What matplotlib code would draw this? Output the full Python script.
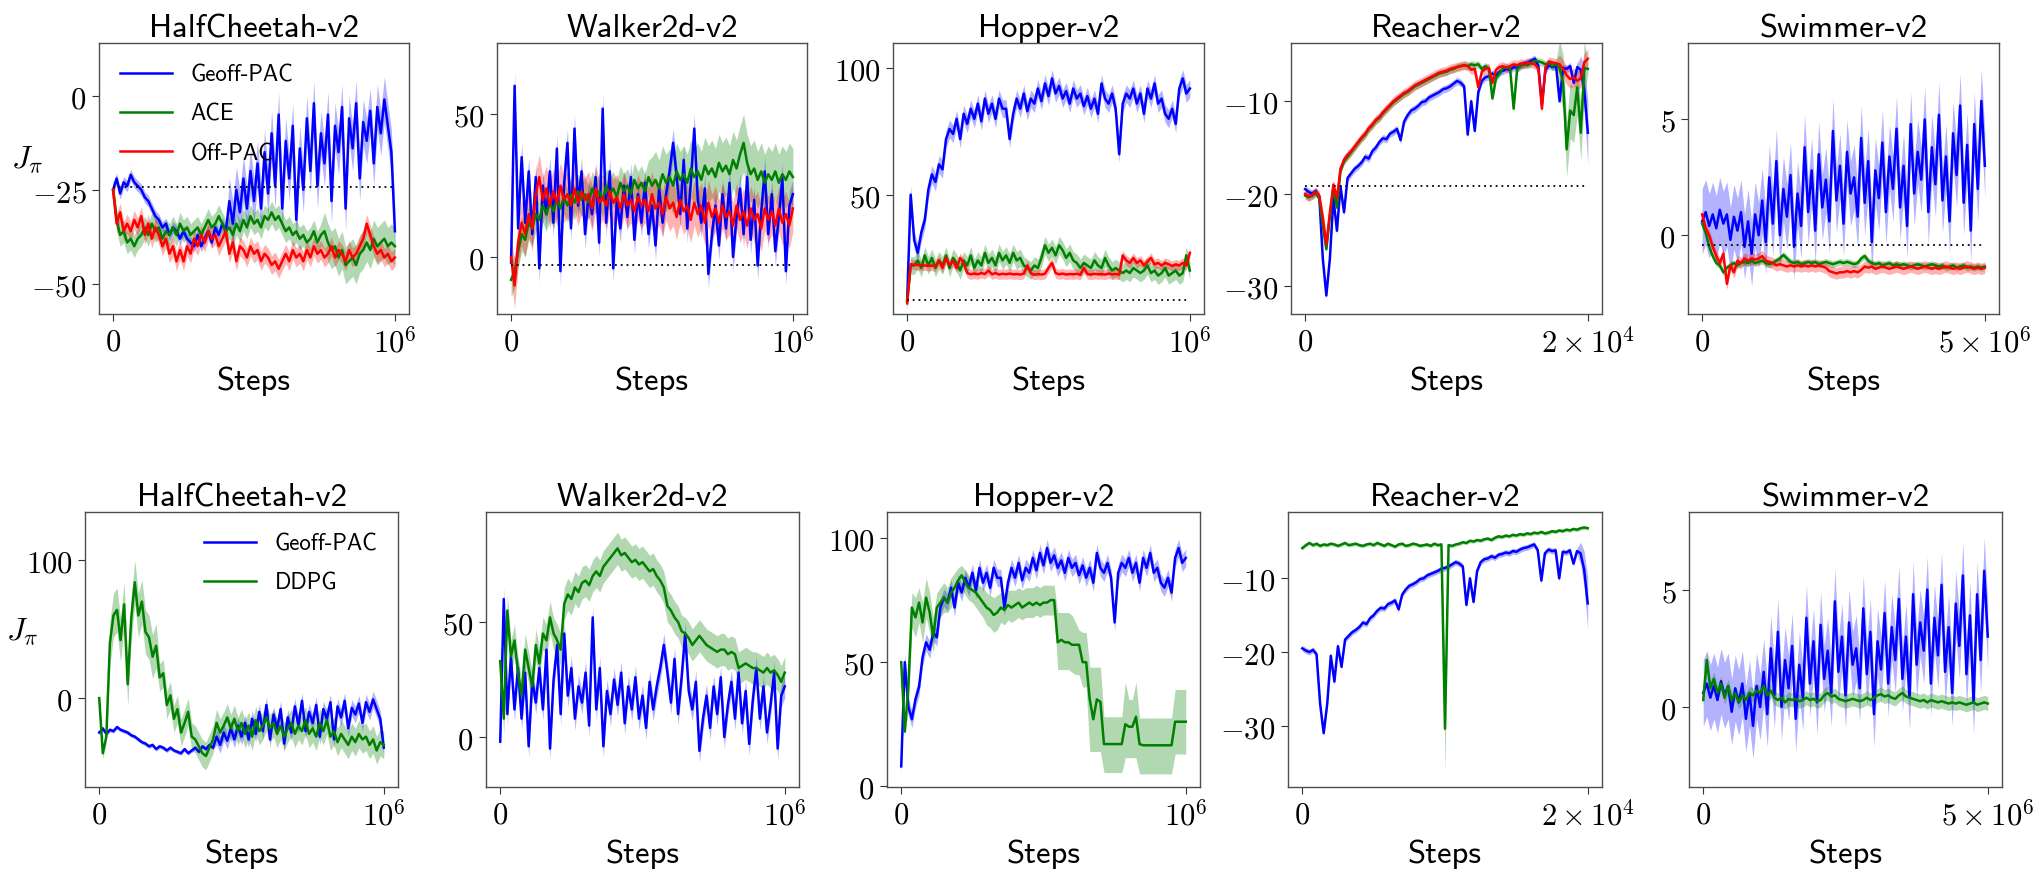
import numpy as np
import matplotlib
matplotlib.use("Agg")
import matplotlib.pyplot as plt

plt.rcParams['mathtext.fontset'] = 'cm'

# ---------------- data ----------------
ENVS = ['HalfCheetah-v2', 'Walker2d-v2', 'Hopper-v2', 'Reacher-v2', 'Swimmer-v2']
TOTAL_STEPS = [1e6, 1e6, 1e6, 2e4, 5e6]
XTICK_LABELS = [r'$10^6$', r'$10^6$', r'$10^6$', r'$2\times10^4$', r'$5\times10^6$']

# Geoff-PAC (same runs are shown in both rows)
hc_geoff = [-25, -22, -26, -23, -24, -21, -23, -24, -25, -27,
            -28, -30, -32, -33, -35, -34, -37, -35, -36, -38,
            -36, -38, -39, -40, -37, -40, -38, -36, -39, -35,
            -37, -34, -36, -28, -34, -25, -31, -22, -30, -20,
            -28, -18, -30, -15, -26, -10, -24, -5, -30, -12,
            -22, -8, -33, -14, -25, -6, -20, -2, -24, -10,
            -18, -5, -28, -8, -15, -3, -30, -6, -14, -2,
            -22, -7, -12, -4, -18, -3, -10, -1, -8, -15,
            -36]
walker_geoff = [-2, 60, 10, 35, 12, 30, 8, 28, -4, 25,
                15, 30, 12, 38, -5, 25, 40, 10, 45, 18,
                30, 8, 22, 15, 28, 5, 52, 12, 30, -4,
                20, 10, 25, 14, 28, 6, 22, 12, 26, 8,
                18, 4, 24, 12, 22, 30, 40, 28, 15, 34,
                10, 26, 45, 20, 12, 24, -6, 8, 18, 4,
                22, 10, 26, 0, 14, 24, 8, 28, 6, 20,
                -3, 16, 30, 8, 22, 2, 14, 28, -5, 18,
                22]
hopper_geoff = [8, 50, 32, 27, 35, 40, 52, 58, 55, 62,
                60, 72, 76, 74, 80, 72, 82, 78, 84, 80,
                86, 79, 88, 82, 86, 80, 88, 84, 84, 72,
                82, 88, 84, 90, 83, 88, 86, 92, 87, 94,
                89, 96, 90, 93, 88, 91, 86, 92, 88, 90,
                85, 89, 84, 88, 82, 94, 88, 86, 90, 84,
                66, 86, 90, 88, 92, 86, 90, 82, 92, 88,
                94, 86, 88, 82, 80, 84, 78, 92, 96, 90,
                92]
reacher_geoff = [-19.5, -19.8, -20.0, -19.7, -20.3, -27, -31, -27, -20.5, -24,
                 -19.2, -22, -18.3, -17.8, -17.3, -17.0, -16.6, -16.0, -16.2, -15.4,
                 -15.0, -14.4, -14.0, -14.1, -13.5, -13.3, -13.0, -14.2, -12.2, -11.5,
                 -11.0, -10.8, -10.5, -10.1, -10.0, -9.6, -9.4, -9.2, -9.0, -8.7,
                 -8.6, -8.4, -8.1, -7.8, -8.0, -8.4, -13.6, -10.0, -13.2, -9.0,
                 -7.8, -7.4, -7.3, -7.0, -7.2, -6.8, -6.7, -6.5, -6.6, -6.3,
                 -6.4, -6.1, -5.9, -5.8, -5.6, -5.4, -6.2, -10.3, -6.6, -6.1,
                 -6.3, -6.2, -10.0, -6.4, -6.5, -6.2, -8.0, -6.3, -6.6, -8.8,
                 -13.4]
swim_geoff = [0.6, 1.0, 0.4, 0.9, 0.3, 1.1, 0.5, 0.9, -0.2, 0.8,
              0.2, 1.0, -0.5, 0.6, -0.8, 0.9, 0.0, 1.5, -0.3, 2.5,
              0.5, 3.2, 0.0, 2.0, 0.8, 2.6, -0.5, 1.8, 0.4, 3.8,
              1.0, 2.8, 0.2, 3.5, 1.2, 2.4, 0.6, 4.5, 1.5, 3.0,
              0.5, 3.6, 1.8, 2.5, 0.8, 4.2, 1.4, 3.2, -0.3, 2.8,
              1.6, 4.0, 1.0, 3.4, 2.0, 4.6, 1.2, 3.0, 0.4, 4.8,
              1.8, 3.6, 2.4, 5.0, 1.0, 3.8, 2.2, 5.2, 1.5, 3.4,
              0.6, 4.4, 2.6, 5.6, 1.4, 3.9, 0.2, 4.8, 2.0, 5.8,
              3.0]

# ACE
hc_ace = [-25, -33, -37, -36, -39, -38, -40, -38, -37, -35,
          -37, -34, -36, -35, -38, -36, -37, -35, -37, -34,
          -36, -35, -37, -36, -35, -37, -35, -33, -35, -34,
          -32, -34, -36, -35, -37, -34, -36, -33, -35, -32,
          -34, -33, -35, -32, -33, -31, -33, -32, -34, -36,
          -35, -37, -36, -38, -37, -39, -38, -36, -39, -37,
          -36, -39, -41, -40, -43, -41, -45, -44, -43, -45,
          -42, -41, -39, -41, -38, -40, -39, -38, -40, -39,
          -40]
walker_ace = [-8, -5, 2, 8, 6, 12, 10, 15, 13, 18,
              15, 19, 16, 20, 17, 21, 18, 22, 19, 23,
              20, 22, 19, 24, 21, 23, 20, 25, 22, 24,
              21, 26, 23, 25, 22, 27, 24, 26, 23, 28,
              25, 27, 24, 29, 26, 28, 25, 30, 27, 29,
              26, 31, 28, 30, 27, 32, 29, 31, 28, 33,
              30, 32, 29, 34, 31, 36, 40, 33, 29, 31,
              27, 30, 26, 29, 27, 30, 26, 29, 27, 30,
              28]
hopper_ace = [8, 22, 22, 24, 21, 26, 22, 25, 21, 24,
              22, 26, 21, 25, 23, 20, 24, 22, 26, 21,
              24, 22, 27, 23, 25, 22, 27, 24, 26, 23,
              27, 24, 25, 22, 21, 20, 22, 21, 25, 30,
              27, 29, 26, 30, 28, 25, 27, 24, 23, 21,
              23, 22, 21, 24, 22, 21, 25, 22, 20, 21,
              20, 19, 20, 19, 21, 20, 19, 20, 22, 19,
              20, 18, 19, 21, 18, 19, 20, 18, 19, 26,
              20]
reacher_ace = [-20.2, -20.4, -20.2, -19.9, -20.5, -23.5, -26.0, -22.5, -19.3, -21.5,
               -17.5, -16.5, -16.0, -15.5, -15.0, -14.5, -14.0, -13.6, -13.0, -12.6,
               -12.1, -11.8, -11.3, -10.9, -10.5, -10.1, -9.8, -9.5, -9.2, -9.0,
               -8.7, -8.4, -8.2, -8.0, -7.8, -7.6, -7.4, -7.2, -7.0, -6.9,
               -6.8, -6.6, -6.5, -6.3, -6.2, -6.1, -6.2, -6.0, -6.1, -6.0,
               -6.5, -6.2, -6.5, -9.7, -7.5, -7.0, -6.4, -6.3, -6.5, -10.8,
               -6.5, -6.2, -6.0, -6.1, -5.8, -5.6, -5.7, -5.8, -6.0, -5.9,
               -6.2, -6.0, -6.4, -8.0, -15.2, -11.0, -11.5, -8.5, -13.4, -6.4,
               -6.5]
swim_ace = [0.5, 0.1, -0.5, -0.9, -1.2, -1.3, -1.6, -1.4, -1.3, -1.2,
            -1.3, -1.2, -1.15, -1.2, -1.1, -1.2, -1.15, -1.1, -1.2, -1.25,
            -1.2, -1.1, -1.0, -0.85, -1.0, -1.15, -1.2, -1.15, -1.25, -1.2,
            -1.15, -1.2, -1.15, -1.25, -1.2, -1.15, -1.2, -1.25, -1.2, -1.15,
            -1.2, -1.15, -1.2, -1.25, -1.2, -1.0, -0.9, -1.1, -1.2, -1.25,
            -1.2, -1.3, -1.25, -1.2, -1.3, -1.25, -1.3, -1.25, -1.3, -1.35,
            -1.3, -1.25, -1.3, -1.35, -1.3, -1.25, -1.3, -1.35, -1.3, -1.4,
            -1.35, -1.3, -1.4, -1.35, -1.3, -1.4, -1.35, -1.4, -1.35, -1.4,
            -1.35]

# Off-PAC
hc_off = [-25, -34, -31, -36, -34, -36, -33, -35, -32, -37,
          -34, -38, -35, -37, -40, -38, -42, -40, -44, -41,
          -44, -40, -42, -38, -40, -37, -39, -36, -38, -37,
          -40, -38, -36, -42, -39, -44, -40, -41, -43, -40,
          -42, -41, -44, -42, -43, -45, -44, -46, -44, -42,
          -44, -41, -43, -42, -44, -41, -43, -40, -42, -41,
          -43, -42, -40, -43, -41, -42, -44, -41, -43, -42,
          -40, -38, -34, -37, -40, -42, -41, -43, -42, -44,
          -43]
walker_off = [0, -10, 5, 12, 8, 15, 10, 22, 28, 20,
              24, 18, 23, 19, 25, 20, 22, 18, 24, 19,
              23, 20, 22, 17, 24, 19, 21, 18, 23, 19,
              21, 17, 22, 18, 20, 16, 21, 18, 20, 16,
              22, 17, 19, 15, 21, 17, 19, 14, 20, 16,
              18, 13, 19, 15, 18, 12, 19, 14, 17, 12,
              18, 14, 16, 11, 18, 13, 16, 11, 17, 13,
              15, 10, 17, 13, 16, 11, 17, 12, 15, 11,
              17]
hopper_off = [7, 22.5, 22.3, 22.2, 22, 22, 21.8, 22, 21.6, 24,
              21, 25, 22, 24, 21, 25, 23, 19, 18.5, 18.8,
              18.5, 19, 18.6, 20, 18.5, 19, 18.4, 18.7, 18.5, 18.8,
              18.5, 18.6, 18.4, 18.8, 22, 19, 18.3, 18.6, 18.4, 18.7,
              21, 23, 19, 18.5, 18.8, 18.4, 18.6, 18.5, 18.7, 18.3,
              21, 18.6, 18.4, 18.7, 18.5, 18.6, 18.4, 18.8, 18.5, 18.6,
              18.4, 26, 24, 23, 25, 23, 24, 22, 23.5, 25,
              22.5, 23, 22, 23, 22.5, 21.8, 22.4, 22, 23, 22,
              27]
reacher_off = [-20.0, -20.3, -20.1, -19.8, -20.2, -22.5, -25.5, -22.0, -19.0, -20.5,
               -17.3, -16.3, -15.8, -15.4, -14.9, -14.4, -13.9, -13.5, -12.9, -12.5,
               -12.0, -11.7, -11.2, -10.8, -10.4, -10.0, -9.7, -9.4, -9.1, -8.9,
               -8.6, -8.3, -8.1, -7.9, -7.7, -7.5, -7.3, -7.1, -6.9, -6.8,
               -6.7, -6.5, -6.4, -6.3, -6.2, -6.1, -6.2, -6.6, -6.5, -8.5,
               -6.8, -6.5, -6.4, -8.0, -6.6, -6.3, -6.2, -6.4, -6.2, -6.0,
               -6.1, -5.9, -6.0, -5.8, -5.9, -6.0, -6.5, -10.8, -6.3, -5.7,
               -5.8, -5.9, -6.0, -6.5, -7.2, -7.6, -7.4, -7.8, -7.5, -5.8,
               -5.4]
swim_off = [0.9, 0.3, 0.0, -0.5, -0.9, -1.2, -0.8, -2.1, -1.3, -1.6,
            -1.1, -1.2, -1.0, -1.1, -1.0, -1.05, -1.0, -0.9, -1.1, -1.15,
            -1.2, -1.3, -1.25, -1.3, -1.35, -1.3, -1.35, -1.3, -1.35, -1.3,
            -1.35, -1.3, -1.35, -1.3, -1.35, -1.4, -1.55, -1.6, -1.65, -1.6,
            -1.6, -1.55, -1.6, -1.55, -1.6, -1.5, -1.35, -1.4, -1.35, -1.45,
            -1.4, -1.35, -1.4, -1.45, -1.4, -1.35, -1.4, -1.45, -1.4, -1.35,
            -1.4, -1.45, -1.4, -1.35, -1.4, -1.45, -1.4, -1.45, -1.4, -1.35,
            -1.4, -1.45, -1.4, -1.45, -1.4, -1.35, -1.4, -1.45, -1.4, -1.45,
            -1.4]

# DDPG
hc_ddpg = [0, -40, -28, 40, 60, 64, 42, 68, 10, 58,
           84, 60, 70, 48, 44, 30, 38, 15, 18, -5,
           2, -15, -8, -25, -18, -10, -28, -30, -35, -40,
           -42, -36, -30, -18, -25, -20, -14, -22, -15, -24,
           -18, -26, -20, -28, -16, -24, -20, -14, -22, -18,
           -26, -20, -28, -22, -18, -26, -20, -24, -16, -26,
           -22, -28, -18, -24, -16, -28, -24, -32, -26, -30,
           -34, -28, -32, -26, -30, -28, -34, -30, -38, -32,
           -34]
walker_ddpg = [33, 8, 55, 35, 42, 28, 18, 38, 30, 22,
               40, 32, 45, 42, 52, 45, 42, 38, 58, 62,
               60, 65, 63, 67, 68, 66, 70, 72, 70, 74,
               76, 78, 80, 82, 79, 80, 78, 76, 77, 75,
               76, 74, 72, 73, 70, 68, 65, 57, 55, 52,
               50, 46, 45, 43, 40, 42, 44, 42, 40, 39,
               38, 37, 38, 38, 36, 37, 36, 30, 31, 32,
               31, 30, 30, 29, 28, 30, 28, 29, 27, 24,
               28]
hopper_ddpg = [50, 22, 40, 72, 68, 74, 66, 76, 70, 60,
               72, 74, 76, 74, 78, 80, 83, 85, 82, 80,
               79, 78, 76, 74, 72, 71, 69, 70, 72, 71,
               73, 72, 73, 74, 72, 73, 74, 73, 74, 73,
               74, 74, 75, 75, 58, 59, 58, 58, 57, 57,
               57, 50, 50, 35, 27, 35, 34, 17, 17, 17,
               17, 17, 17, 25, 24, 24, 28, 17, 16.5, 16.5,
               16.5, 16.5, 16.5, 16.5, 16.5, 16.5, 16.5, 26, 26, 26,
               26]
hopper_ddpg_lo = [48, 21, 30, 64, 60, 66, 58, 68, 62, 54,
                  66, 68, 70, 70, 72, 75, 78, 80, 77, 75,
                  74, 72, 70, 68, 65, 64, 62, 63, 66, 65,
                  67, 66, 67, 68, 67, 68, 68, 68, 69, 68,
                  69, 69, 69, 69, 47, 47, 47, 47, 46, 45,
                  45, 40, 40, 14, 14, 14, 14, 5.5, 5.5, 5.5,
                  5.5, 5.5, 5.5, 11.5, 11.5, 11.5, 11.5, 5, 5, 5,
                  5, 5, 5, 5, 5, 5, 5, 13, 13, 13,
                  13]
hopper_ddpg_hi = [52, 23, 50, 78, 76, 80, 74, 84, 78, 68,
                  78, 80, 82, 80, 84, 86, 88, 89, 87, 85,
                  84, 83, 81, 80, 78, 77, 76, 77, 78, 78,
                  79, 79, 79, 80, 79, 80, 80, 80, 81, 80,
                  81, 81, 81, 81, 70, 70, 70, 70, 69, 66,
                  63, 62, 62, 48, 48, 48, 48, 28, 28, 28,
                  28, 28, 28, 42, 35, 35, 42, 27.5, 27.5, 27.5,
                  27.5, 27.5, 27.5, 27.5, 27.5, 27.5, 27.5, 39, 39, 39,
                  39]
reacher_ddpg = [-5.9, -5.5, -5.2, -5.5, -5.3, -5.6, -5.4, -5.5, -5.3, -5.4,
                -5.6, -5.4, -5.2, -5.5, -5.4, -5.3, -5.5, -5.6, -5.4, -5.3,
                -5.5, -5.2, -5.4, -5.6, -5.3, -5.5, -5.7, -5.4, -5.3, -5.6,
                -5.5, -5.3, -5.4, -5.6, -5.5, -5.4, -5.6, -5.3, -5.5, -5.4,
                -30.4, -5.5, -5.6, -5.4, -5.3, -5.1, -5.2, -4.9, -5.0, -4.8,
                -4.9, -4.7, -4.6, -4.8, -4.5, -4.3, -4.4, -4.2, -4.3, -4.1,
                -4.2, -4.0, -4.1, -3.9, -4.0, -3.8, -3.9, -3.7, -3.9, -3.8,
                -3.6, -3.7, -3.5, -3.6, -3.4, -3.5, -3.3, -3.4, -3.2, -3.1,
                -3.2]
swim_ddpg = [0.3, 2.0, 0.8, 1.2, 0.6, 1.0, 0.4, 0.9, 0.3, 0.6,
             0.2, 0.5, 0.3, 0.6, 0.5, 0.7, 0.6, 0.9, 0.5, 0.7,
             0.4, 0.3, 0.4, 0.2, 0.35, 0.3, 0.35, 0.25, 0.3, 0.4,
             0.3, 0.35, 0.25, 0.3, 0.5, 0.6, 0.45, 0.5, 0.35, 0.3,
             0.25, 0.3, 0.35, 0.3, 0.25, 0.3, 0.4, 0.3, 0.4, 0.5,
             0.55, 0.45, 0.5, 0.4, 0.35, 0.5, 0.6, 0.45, 0.4, 0.35,
             0.3, 0.25, 0.3, 0.2, 0.3, 0.25, 0.2, 0.25, 0.2, 0.15,
             0.2, 0.15, 0.2, 0.15, 0.1, 0.15, 0.2, 0.1, 0.15, 0.2,
             0.15]

# half-widths of the shaded bands
hc_geoff_sd = [1.5] * 33 + [6.0] * 48
hc_ace_sd = [3.0] * 60 + [5.0] * 21
hc_off_sd = 2.5
walker_geoff_sd, walker_ace_sd, walker_off_sd = 5.0, [6.0] * 40 + [10.0] * 41, 8.0
hopper_geoff_sd, hopper_ace_sd, hopper_off_sd = 3.5, 3.5, 2.0
reacher_geoff_sd = [0.4] * 78 + [1.5, 2.5, 3.5]
reacher_ace_sd = [0.4] * 72 + [3.0] * 8 + [0.6]
reacher_off_sd = [0.5] * 72 + [1.0] * 9
swim_geoff_sd, swim_ace_sd, swim_off_sd = 1.4, 0.15, 0.25
hc_ddpg_sd = [4.0] * 3 + [16.0] * 14 + [10.0] * 64
walker_ddpg_sd = 7.0
reacher_ddpg_sd = [0.25] * 40 + [6.0] + [0.25] * 40
swim_ddpg_sd = 0.3

# dotted reference level (top row)
baselines = [-24.3, -2.8, 8.5, -19.2, -0.44]

top_ylims = [(-58, 14), (-20, 75), (2.8, 110), (-33, -3.7), (-3.4, 8.3)]
top_yticks = [[-50, -25, 0], [0, 50], [50, 100], [-30, -20, -10], [0, 5]]
bot_ylims = [(-64.5, 135), (-21.7, 97.8), (-0.3, 110.5), (-38.3, -1.0), (-3.4, 8.3)]
bot_yticks = [[0, 100], [0, 50], [0, 50, 100], [-30, -20, -10], [0, 5]]

# axes boxes in pixels: (left, top, right, bottom)
top_boxes = [(99, 44, 409, 315), (497, 44, 807, 315), (893, 44, 1204, 315),
             (1291, 44, 1602, 315), (1688, 44, 1999, 315)]
bot_boxes = [(85, 513, 398, 788), (486, 513, 799, 788), (887, 513, 1200, 788),
             (1288, 513, 1602, 788), (1689, 513, 2002, 788)]

W, H = 2041, 870
SANS = 'cmss10'


def add_box(fig, box):
    l, t, r, b = box
    return fig.add_axes([l / W, 1 - b / H, (r - l) / W, (b - t) / H])


def curve(ax, total, mean, sd, color, label=None, lo=None, hi=None):
    mean = np.asarray(mean, dtype=float)
    x = np.linspace(0, total, len(mean))
    if lo is None:
        sd = np.asarray(sd, dtype=float)
        lo, hi = mean - sd, mean + sd
    ax.plot(x, mean, color=color, lw=1.8, label=label)
    ax.fill_between(x, lo, hi, color=color, alpha=0.3, lw=0)


def style(ax, i, ylim, yticks):
    T = TOTAL_STEPS[i]
    ax.set_xlim(-0.05 * T, 1.05 * T)
    ax.set_ylim(*ylim)
    ax.set_xticks([0, T])
    ax.set_xticklabels([r'$0$', XTICK_LABELS[i]])
    ax.set_yticks(yticks)
    ax.set_yticklabels([r'$%d$' % v for v in yticks])
    ax.tick_params(labelsize=22, length=5, width=0.8, color='0.2', pad=4)
    for s in ax.spines.values():
        s.set_color('0.3')
        s.set_linewidth(1.0)
    ax.set_title(ENVS[i], fontfamily=SANS, fontsize=23.5, pad=5)
    ax.set_xlabel('Steps', fontfamily=SANS, fontsize=23.5, labelpad=6)


fig = plt.figure(figsize=(W / 100, H / 100), dpi=100)

top = [
    (hc_geoff, hc_geoff_sd, hc_ace, hc_ace_sd, hc_off, hc_off_sd),
    (walker_geoff, walker_geoff_sd, walker_ace, walker_ace_sd, walker_off, walker_off_sd),
    (hopper_geoff, hopper_geoff_sd, hopper_ace, hopper_ace_sd, hopper_off, hopper_off_sd),
    (reacher_geoff, reacher_geoff_sd, reacher_ace, reacher_ace_sd, reacher_off, reacher_off_sd),
    (swim_geoff, swim_geoff_sd, swim_ace, swim_ace_sd, swim_off, swim_off_sd),
]
for i, (g, gs, a, as_, o, os_) in enumerate(top):
    ax = add_box(fig, top_boxes[i])
    T = TOTAL_STEPS[i]
    curve(ax, T, g, gs, 'blue', 'Geoff-PAC')
    curve(ax, T, a, as_, 'green', 'ACE')
    curve(ax, T, o, os_, 'red', 'Off-PAC')
    ax.plot([0, T], [baselines[i]] * 2, color='black', lw=1.3, ls=(0, (1, 2.2)))
    style(ax, i, top_ylims[i], top_yticks[i])
    if i == 0:
        ax.legend(loc='upper left', frameon=False, prop={'family': SANS, 'size': 16.5},
                  handlelength=2.3, handletextpad=0.8, labelspacing=0.75)
        ax.set_ylabel(r'$J_\pi$', rotation=0, fontsize=23, va='center', ha='center')
        ax.yaxis.set_label_coords(-0.23, 0.57)

bottom = [
    (hc_geoff, hc_geoff_sd, hc_ddpg, hc_ddpg_sd, None, None),
    (walker_geoff, walker_geoff_sd, walker_ddpg, walker_ddpg_sd, None, None),
    (hopper_geoff, hopper_geoff_sd, hopper_ddpg, None, hopper_ddpg_lo, hopper_ddpg_hi),
    (reacher_geoff, reacher_geoff_sd, reacher_ddpg, reacher_ddpg_sd, None, None),
    (swim_geoff, swim_geoff_sd, swim_ddpg, swim_ddpg_sd, None, None),
]
for i, (g, gs, d, ds, lo, hi) in enumerate(bottom):
    ax = add_box(fig, bot_boxes[i])
    T = TOTAL_STEPS[i]
    curve(ax, T, g, gs, 'blue', 'Geoff-PAC')
    curve(ax, T, d, ds, 'green', 'DDPG', lo=lo, hi=hi)
    style(ax, i, bot_ylims[i], bot_yticks[i])
    if i == 0:
        ax.legend(loc='upper right', frameon=False, prop={'family': SANS, 'size': 16.5},
                  handlelength=2.3, handletextpad=0.8, labelspacing=0.75)
        ax.set_ylabel(r'$J_\pi$', rotation=0, fontsize=23, va='center', ha='center')
        ax.yaxis.set_label_coords(-0.2, 0.567)

fig.savefig('out.png', dpi=100)
